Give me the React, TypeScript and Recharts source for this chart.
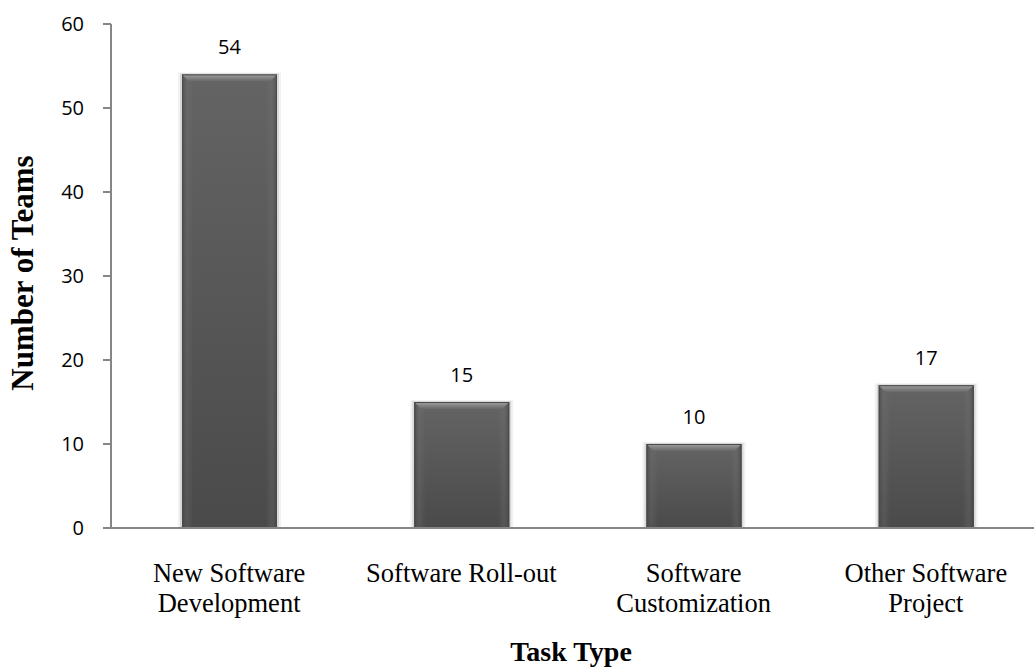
import { Bar, BarChart, LabelList, XAxis, YAxis, Label } from "recharts";

const categories = [
  "New Software Development",
  "Software Roll-out",
  "Software Customization",
  "Other Software Project",
];
const tickLines = [
  ["New Software", "Development"],
  ["Software Roll-out"],
  ["Software", "Customization"],
  ["Other Software", "Project"],
];
const teams = [54, 15, 10, 17];
const yTicks = [0, 10, 20, 30, 40, 50, 60];

const data = categories.map((name, i) => ({ name, teams: teams[i] }));

const axisColor = "#868686";
const serif = "'Liberation Serif', 'Times New Roman', serif";
const sans = "'Open Sans', sans-serif";

function BevelBar(props: any) {
  const { x, y, width, height, index } = props;
  if (!height || height <= 0) return null;
  const b = 7;
  const id = `bar-${index}`;
  return (
    <g>
      <defs>
        <linearGradient id={`${id}-body`} x1="0" y1="0" x2="0" y2="1">
          <stop offset="0%" stopColor="#646464" />
          <stop offset="100%" stopColor="#4a4a4a" />
        </linearGradient>
        <linearGradient id={`${id}-side`} x1="0" y1="0" x2="1" y2="0">
          <stop offset="0%" stopColor="#3f3f3f" stopOpacity={0.6} />
          <stop offset="6%" stopColor="#777" stopOpacity={0.25} />
          <stop offset="12%" stopColor="#777" stopOpacity={0} />
          <stop offset="88%" stopColor="#777" stopOpacity={0} />
          <stop offset="94%" stopColor="#777" stopOpacity={0.25} />
          <stop offset="100%" stopColor="#3f3f3f" stopOpacity={0.6} />
        </linearGradient>
        <linearGradient id={`${id}-top`} x1="0" y1="0" x2="0" y2="1">
          <stop offset="0%" stopColor="#a0a0a0" />
          <stop offset="100%" stopColor="#676767" />
        </linearGradient>
      </defs>
      <rect x={x - 4} y={y - 2} width={width + 8} height={height + 2} fill="#000" opacity={0.05} />
      <rect x={x - 2} y={y - 1} width={width + 4} height={height + 1} fill="#000" opacity={0.1} />
      <rect x={x} y={y} width={width} height={height} fill={`url(#${id}-body)`} />
      <rect x={x} y={y} width={width} height={height} fill={`url(#${id}-side)`} />
      <polygon
        points={`${x},${y} ${x + width},${y} ${x + width - b},${y + b} ${x + b},${y + b}`}
        fill={`url(#${id}-top)`}
      />
      <rect x={x + 0.5} y={y + 0.5} width={width - 1} height={height - 1} fill="none" stroke="#4a4a4a" strokeWidth={1} />
    </g>
  );
}

function CategoryTick(props: any) {
  const { x, y, index } = props;
  const lines = tickLines[index] ?? [];
  return (
    <g>
      {lines.map((line, i) => (
        <text
          key={i}
          x={x}
          y={y + 54 + i * 30}
          textAnchor="middle"
          fontFamily={serif}
          fontSize={26.5}
          fill="#000"
        >
          {line}
        </text>
      ))}
    </g>
  );
}

export default function App() {
  return (
    <div
      style={{
        position: "absolute",
        left: 0,
        top: 0,
        width: 1034,
        height: 671,
        overflow: "hidden",
        background: "#fff",
      }}
    >
      <BarChart
        width={1042}
        height={671}
        data={data}
        margin={{ top: 24, right: 0, bottom: 0, left: 0 }}
      >
        <XAxis
          dataKey="name"
          height={143}
          tickLine={false}
          tickSize={0}
          tickMargin={0}
          axisLine={{ stroke: axisColor, strokeWidth: 2 }}
          padding={{ left: 2, right: 0 }}
          interval={0}
          tick={<CategoryTick />}
        >
          <Label
            content={() => (
              <text x={571} y={661} textAnchor="middle" fontFamily={serif} fontSize={28} fontWeight="bold" fill="#000">
                Task Type
              </text>
            )}
          />
        </XAxis>
        <YAxis
          width={111}
          domain={[0, 60]}
          ticks={yTicks}
          interval={0}
          tickSize={8}
          tickMargin={19}
          tickLine={{ stroke: axisColor, strokeWidth: 2 }}
          axisLine={{ stroke: axisColor, strokeWidth: 2 }}
          tick={{ fill: "#000", fontSize: 20, fontFamily: sans }}
        >
          <Label
            content={() => (
              <text
                x={0}
                y={0}
                transform="translate(33, 273) rotate(-90)"
                textAnchor="middle"
                fontFamily={serif}
                fontSize={31}
                fontWeight="bold"
                fill="#000"
              >
                Number of Teams
              </text>
            )}
          />
        </YAxis>
        <Bar dataKey="teams" barSize={95} shape={<BevelBar />} isAnimationActive={false}>
          <LabelList
            dataKey="teams"
            position="top"
            offset={20}
            fill="#000"
            fontSize={20}
            fontFamily={sans}
          />
        </Bar>
      </BarChart>
    </div>
  );
}
